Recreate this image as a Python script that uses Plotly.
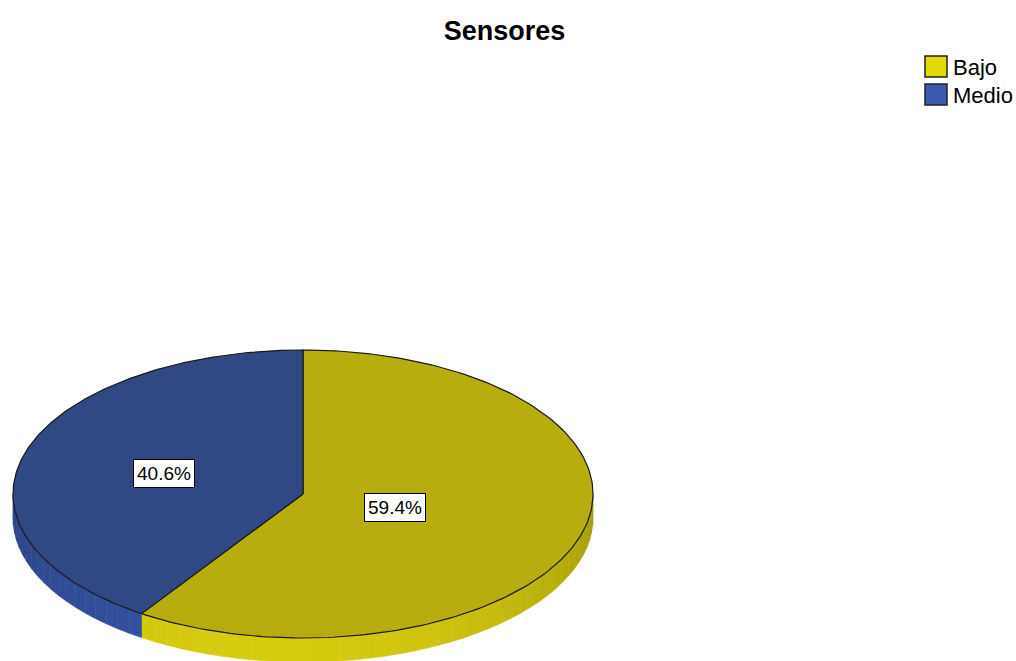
import numpy as np
import plotly.graph_objects as go

# Data
categories = ["Bajo", "Medio"]
percentages = [59.4, 40.6]

# Styling
top_colors = ["#b8ad0e", "#304884"]
side_colors = ["#d8cc10", "#3552a0"]
legend_colors = ["#e2d80a", "#3a58b0"]
FONT = "Liberation Sans, Arial"

W, H = 1016, 661
cx, cy, rx, ry, depth = 303, 494, 290, 144, 24


def pt(theta_deg, r=1.0, dy=0.0):
    t = np.radians(theta_deg)
    return cx + rx * r * np.sin(t), cy - ry * r * np.cos(t) + dy


def shade(hex_color, f):
    h = hex_color.lstrip("#")
    rgb = [int(h[i:i + 2], 16) for i in (0, 2, 4)]
    rgb = [max(0, min(255, int(c * f))) for c in rgb]
    return "rgb({},{},{})".format(*rgb)


fig = go.Figure()

# Slice angle spans (clockwise from 12 o'clock)
bounds = np.concatenate([[0], np.cumsum(percentages) / 100 * 360])

# Side walls (front half only), drawn as thin shaded strips
for i, cat in enumerate(categories):
    a0, a1 = bounds[i], bounds[i + 1]
    lo, hi = max(a0, 90), min(a1, 270)
    if hi <= lo:
        continue
    edges = np.linspace(lo, hi, int((hi - lo) / 3) + 2)
    for s0, s1 in zip(edges[:-1], edges[1:]):
        mid = (s0 + s1) / 2
        f = 0.78 + 0.22 * np.cos(np.radians(mid - 190))
        xs_top, ys_top = pt(np.array([s0, s1]))
        xs = [xs_top[0], xs_top[1], xs_top[1], xs_top[0], xs_top[0]]
        ys = [ys_top[0], ys_top[1], ys_top[1] + depth, ys_top[0] + depth, ys_top[0]]
        fig.add_trace(go.Scatter(
            x=xs, y=ys, mode="lines", fill="toself",
            fillcolor=shade(side_colors[i], f),
            line=dict(color=shade(side_colors[i], f), width=0.6),
            hoverinfo="skip", showlegend=False))

# Top faces of the slices
for i, cat in enumerate(categories):
    a0, a1 = bounds[i], bounds[i + 1]
    th = np.linspace(a0, a1, 200)
    ex, ey = pt(th)
    xs = np.concatenate([[cx], ex, [cx]])
    ys = np.concatenate([[cy], ey, [cy]])
    fig.add_trace(go.Scatter(
        x=xs, y=ys, mode="lines", fill="toself", name=cat,
        fillcolor=top_colors[i], line=dict(color="#1a1a1a", width=1.2),
        hoverinfo="skip", showlegend=False))

# Percentage labels
label_r = [0.33, 0.5]
for i, cat in enumerate(categories):
    mid = (bounds[i] + bounds[i + 1]) / 2
    lx, ly = pt(mid, label_r[i])
    fig.add_annotation(
        x=lx, y=ly, text=f"{percentages[i]:.1f}%", showarrow=False,
        font=dict(family=FONT, size=19, color="#000000"),
        bgcolor="#ffffff", bordercolor="#000000", borderwidth=1, borderpad=3)

# Legend: swatches and names, top right
for i, cat in enumerate(categories):
    y0 = 56 + i * 28
    fig.add_shape(type="rect", x0=925, x1=947, y0=y0, y1=y0 + 21,
                  fillcolor=legend_colors[i], line=dict(color="#222222", width=1.5))
    fig.add_annotation(x=951, y=y0 + 11, text=cat, showarrow=False,
                       xanchor="left", yanchor="middle",
                       font=dict(family=FONT, size=22, color="#000000"))

fig.update_layout(
    width=W, height=H,
    margin=dict(l=0, r=0, t=0, b=0),
    paper_bgcolor="#ffffff", plot_bgcolor="#ffffff",
    showlegend=False,
    title=dict(text="<b>Sensores</b>", x=0.4965, xanchor="center",
               y=0.954, yanchor="middle",
               font=dict(family=FONT, size=27, color="#000000")),
    xaxis=dict(range=[0, W], visible=False, fixedrange=True),
    yaxis=dict(range=[H, 0], visible=False, fixedrange=True),
)

fig.write_html("out.html")
